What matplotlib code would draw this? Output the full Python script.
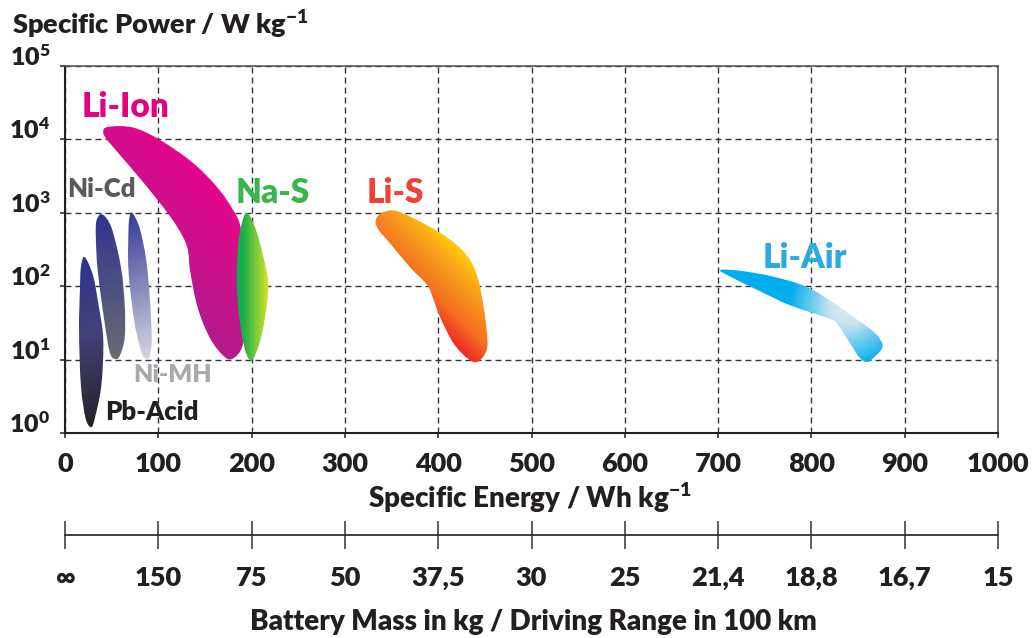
import numpy as np
import matplotlib
matplotlib.use("Agg")
import matplotlib.pyplot as plt
from matplotlib.path import Path
from matplotlib.patches import PathPatch
from matplotlib.colors import LinearSegmentedColormap

plt.rcParams['font.family'] = ['Lato', 'DejaVu Sans']
plt.rcParams['font.weight'] = 800
plt.rcParams['mathtext.default'] = 'regular'

# ---- data: outlines of each battery family (specific energy Wh/kg, specific power W/kg)
pb_acid_E = [21, 30, 36, 41, 39, 32, 28, 22, 17, 15, 16, 17]
pb_acid_P = [250, 140, 55, 19, 4.5, 1.6, 1.2, 1.6, 4.5, 25, 90, 180]

ni_cd_E = [40, 50, 60, 64, 64, 59, 54, 48, 42, 35, 33, 34]
ni_cd_P = [950, 620, 180, 55, 20, 11.5, 10.2, 12.5, 35, 165, 500, 800]

ni_mh_E = [72, 80, 87, 91, 93, 91, 88, 82, 74, 68, 68, 69]
ni_mh_P = [1000, 620, 230, 65, 19, 11.5, 10.2, 12.5, 35, 165, 550, 850]

li_ion_E = [41, 46, 73, 102, 137, 163, 180, 188, 190, 191, 190, 179, 169, 155,
            142, 134, 131, 120, 102, 73, 48]
li_ion_P = [12300, 14800, 14500, 9800, 4800, 2240, 1100, 650, 280, 35, 15, 10.2,
            11.5, 20, 52, 165, 340, 650, 1350, 3800, 8900]

na_s_E = [195, 204, 212, 218, 214, 208, 200, 193, 187, 184, 185, 189]
na_s_P = [1000, 620, 270, 105, 35, 16, 9.8, 13.5, 35, 105, 310, 680]

li_s_E = [333, 341, 356, 384, 413, 432, 442, 448, 452, 452, 442, 431, 416, 402,
          394, 388, 370, 348, 336]
li_s_P = [800, 1020, 1050, 720, 430, 250, 135, 59, 25, 13.5, 9.3, 10.5, 17, 38,
          71, 105, 180, 390, 590]

li_air_E = [702, 724, 759, 795, 823, 845, 865, 874, 876, 868, 860, 852, 841, 827,
            817, 777, 742, 713]
li_air_P = [166, 162, 135, 98, 60, 38, 25, 18.6, 14.5, 11, 9.3, 10.5, 17, 31.6,
            37, 55, 89, 135]

# label text, anchor (E, P), colour, size
labels = ["Li-Ion", "Ni-Cd", "Na-S", "Li-S", "Li-Air", "Ni-MH", "Pb-Acid"]
label_E = [65, 38.6, 223, 354, 793, 115, 93]
label_P = [20400, 1640, 1350, 1350, 177, 4.95, 1.5]
label_colors = ["#e6007e", "#58595b", "#39b54a", "#ef4136", "#29abe2", "#a7a9ac", "#231f20"]
label_sizes = [24, 18.5, 24, 24, 24, 18, 18.5]

energy_ticks = [0, 100, 200, 300, 400, 500, 600, 700, 800, 900, 1000]
range_labels = ["\u221e", "150", "75", "50", "37,5", "30", "25", "21,4", "18,8", "16,7", "15"]
power_ticks = [1, 10, 100, 1000, 10000, 100000]
power_ticklabels = ["$10^{0}$", "$10^{1}$", "$10^{2}$", "$10^{3}$", "$10^{4}$", "$10^{5}$"]

INK = "#231f20"

W, H = 1036, 638
fig = plt.figure(figsize=(W / 100, H / 100), dpi=100)
ax_l, ax_r, ax_t, ax_b = 65, 998, 66, 433
ax = fig.add_axes([ax_l / W, 1 - ax_b / H, (ax_r - ax_l) / W, (ax_b - ax_t) / H])
ax.set_xlim(0, 1000)
ax.set_yscale('log')
ax.set_ylim(1, 1e5)
ax.set_xticks(energy_ticks)
ax.set_xticklabels([str(v) for v in energy_ticks])
ax.set_yticks(power_ticks)
ax.set_yticklabels(power_ticklabels)
ax.yaxis.set_minor_locator(matplotlib.ticker.NullLocator())
ax.tick_params(axis='x', direction='out', length=3.6, width=1.1, color=INK,
               labelsize=19.5, labelcolor=INK, pad=10)
ax.tick_params(axis='y', direction='out', length=3.6, width=1.1, color=INK,
               labelsize=18, labelcolor=INK, pad=7)
for lab in ax.get_yticklabels():
    lab.set_va('baseline')
for side in ('left', 'bottom'):
    ax.spines[side].set_linewidth(1.5)
    ax.spines[side].set_color(INK)
for side in ('top', 'right'):
    ax.spines[side].set_linewidth(1.1)
    ax.spines[side].set_color('#4d4d4f')
ax.set_axisbelow(True)
ax.grid(True, which='major', color='#333333', linewidth=1.0,
        linestyle=(0, (4.3, 2.9)))


def smooth_path(E, P):
    """Closed Catmull-Rom outline through the points, as cubic Bezier segments."""
    pts = np.column_stack([np.asarray(E, float), np.log10(np.asarray(P, float))])
    n = len(pts)
    verts = [pts[0]]
    codes = [Path.MOVETO]
    for i in range(n):
        p0, p1, p2, p3 = pts[i - 1], pts[i], pts[(i + 1) % n], pts[(i + 2) % n]
        c1 = p1 + (p2 - p0) / 6.0
        c2 = p2 - (p3 - p1) / 6.0
        verts += [c1, c2, p2]
        codes += [Path.CURVE4] * 3
    verts = np.array(verts)
    verts[:, 1] = 10 ** verts[:, 1]
    return Path(verts, codes)


def gradient_blob(E, P, stops, kind, param):
    path = smooth_path(E, P)
    patch = PathPatch(path, facecolor='none', edgecolor='none', transform=ax.transData)
    ax.add_patch(patch)
    disp = ax.transData.transform(path.vertices)
    x0, y0 = disp.min(axis=0) - 4
    x1, y1 = disp.max(axis=0) + 4
    xs = np.linspace(x0, x1, 300)
    ys = np.linspace(y0, y1, 300)
    X, Y = np.meshgrid(xs, ys)
    if kind == 'linear':
        a = np.deg2rad(param)
        proj = X * np.cos(a) + Y * np.sin(a)
        t = (proj - proj.min()) / (proj.max() - proj.min())
    else:
        (cE, cP), radius = param
        cx, cy = ax.transData.transform((cE, cP))
        t = np.clip(np.hypot(X - cx, Y - cy) / radius, 0, 1)
    cmap = LinearSegmentedColormap.from_list('g', stops)
    inv = ax.transAxes.inverted()
    (u0, v0), (u1, v1) = inv.transform([(x0, y0), (x1, y1)])
    im = ax.imshow(t, cmap=cmap, vmin=0, vmax=1, origin='lower',
                   extent=[u0, u1, v0, v1], transform=ax.transAxes,
                   interpolation='bilinear', aspect='auto', zorder=3)
    im.set_clip_path(patch)


gradient_blob(pb_acid_E, pb_acid_P,
              [(0, '#2e3192'), (0.45, '#44427a'), (1, '#231f20')], 'linear', -78)
gradient_blob(ni_cd_E, ni_cd_P,
              [(0, '#2e3192'), (1, '#6d6e71')], 'linear', -75)
gradient_blob(ni_mh_E, ni_mh_P,
              [(0, '#2e3192'), (1, '#dcdce4')], 'linear', -72)
gradient_blob(li_ion_E, li_ion_P,
              [(0, '#8b2a8f'), (0.45, '#c0168b'), (0.75, '#e5068a'), (1, '#e8058b')],
              'linear', 45)
gradient_blob(na_s_E, na_s_P,
              [(0, '#00a651'), (0.3, '#22b04b'), (1, '#fcee21')], 'linear', 0)
gradient_blob(li_s_E, li_s_P,
              [(0, '#fff200'), (0.2, '#ffe800'), (0.4, '#f7941d'), (0.52, '#f36f21'),
               (0.65, '#ed1c24'), (1, '#ed1c24')], 'linear', -135)
gradient_blob(li_air_E, li_air_P,
              [(0, '#dde5ea'), (0.3, '#c8e4f0'), (1, '#00aeef')], 'radial', ((840, 52), 60))

for txt, e, p, c, s in zip(labels, label_E, label_P, label_colors, label_sizes):
    ax.text(e, p, txt, color=c, fontsize=s, ha='center', va='baseline', zorder=5)

ax.set_xlim(0, 1000)
ax.set_ylim(1, 1e5)

fig.text(12 / W, 1 - 34 / H, "Specific Power / W kg$^{-1}$", fontsize=19.5,
         color=INK, ha='left', va='baseline')
fig.text(530 / W, 1 - 508 / H, "Specific Energy / Wh kg$^{-1}$", fontsize=20,
         color=INK, ha='center', va='baseline')
fig.text(533 / W, 1 - 630 / H, "Battery Mass in kg / Driving Range in 100 km",
         fontsize=20, color=INK, ha='center', va='baseline')

# driving-range scale below the main chart
ax2 = fig.add_axes([ax_l / W, 1 - 535 / H, (ax_r - ax_l) / W, 0.0001])
ax2.set_xlim(0, 1000)
ax2.set_yticks([])
for side in ('left', 'right', 'top'):
    ax2.spines[side].set_visible(False)
ax2.spines['bottom'].set_linewidth(1.3)
ax2.spines['bottom'].set_color('#333333')
ax2.patch.set_visible(False)
ax2.set_xticks(energy_ticks)
ax2.set_xticklabels(range_labels)
ax2.tick_params(axis='x', direction='inout', length=20.5, width=1.1, color='#333333',
                labelsize=19.5, labelcolor=INK, pad=12)

fig.savefig("out.png", dpi=100)
